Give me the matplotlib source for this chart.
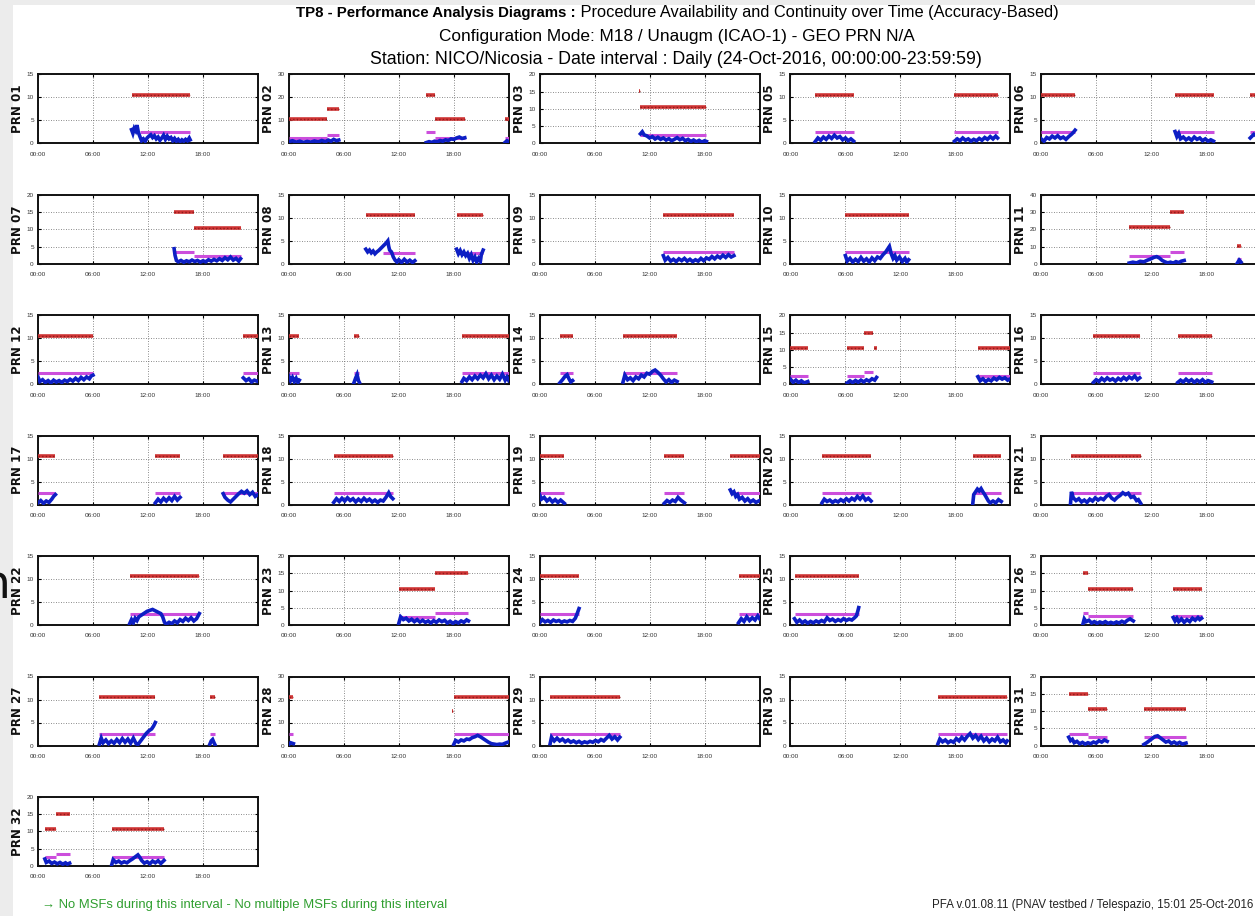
import matplotlib
matplotlib.use('Agg')
import matplotlib.pyplot as plt
from matplotlib.patches import Rectangle
from matplotlib import font_manager as fm

W, H, DPI = 1255, 916, 100

_names = {f.name for f in fm.fontManager.ttflist}
NARROW = (['Liberation Sans Narrow', 'DejaVu Sans'] if 'Liberation Sans Narrow' in _names
          else ['Liberation Sans', 'DejaVu Sans'])

# ---------------- data (hours of day, metres) ----------------
# red / magenta: (start_h, end_h, level) ; blue: list of traces [(t, v), ...]
PRN01_RED = [(10.25, 16.6, 10.6)]
PRN01_MAG = [(11.1, 16.6, 2.4)]
PRN01_BLUE = [[(10.2, 3.0), (10.35, 2.2), (10.5, 3.3), (10.65, 2.8), (10.8, 4.0), (10.95, 2.4), (11.1, 1.6),
               (11.3, 0.6), (11.5, 1.0), (11.7, 0.5), (11.9, 1.2), (12.1, 1.6), (12.3, 1.9), (12.5, 1.3),
               (12.7, 1.7), (12.9, 1.0), (13.1, 1.4), (13.3, 0.7), (13.5, 1.2), (13.7, 1.8), (13.9, 0.9),
               (14.1, 1.6), (14.3, 1.0), (14.5, 1.3), (14.7, 0.6), (14.9, 1.1), (15.1, 0.5), (15.3, 0.9),
               (15.5, 0.4), (15.7, 0.8), (15.9, 0.5), (16.1, 0.9), (16.3, 0.6), (16.5, 1.2), (16.6, 0.8)]]

PRN02_RED = [(0, 4.2, 10.6), (4.2, 5.45, 15.2), (15.0, 15.9, 21.3), (15.9, 19.2, 10.6), (23.6, 24, 10.6)]
PRN02_MAG = [(0, 4.2, 2.5), (4.2, 5.45, 3.5), (15.0, 15.9, 5.0), (15.9, 19.2, 2.5), (23.6, 24, 2.5)]
PRN02_BLUE = [[(0, 0.8), (0.4, 1.2), (0.8, 0.6), (1.2, 1.0), (1.6, 0.5), (2.0, 0.9), (2.4, 0.6), (2.8, 1.1),
               (3.2, 0.7), (3.6, 1.3), (4.0, 0.8), (4.3, 1.5), (4.6, 1.0), (4.9, 1.8), (5.2, 1.2), (5.45, 1.5)],
              [(15.0, 0.4), (15.3, 0.8), (15.6, 0.5), (15.9, 1.0), (16.2, 0.7), (16.5, 1.3), (16.8, 1.0),
               (17.1, 1.6), (17.4, 1.3), (17.7, 2.0), (18.0, 1.8), (18.3, 2.4), (18.6, 2.8), (18.9, 2.2), (19.2, 2.5)],
              [(23.6, 0.5), (23.8, 1.2), (24.0, 0.8)]]

PRN03_RED = [(10.8, 11.0, 15.2), (11.0, 18.2, 10.6)]
PRN03_MAG = [(11.0, 18.2, 2.4)]
PRN03_BLUE = [[(11.0, 2.8), (11.2, 3.4), (11.4, 2.5), (11.7, 2.2), (12.0, 1.6), (12.3, 2.0), (12.6, 1.3),
               (12.9, 1.8), (13.2, 1.2), (13.5, 1.6), (13.8, 1.0), (14.1, 1.4), (14.4, 0.8), (14.7, 1.2),
               (15.0, 1.7), (15.3, 1.1), (15.6, 1.5), (15.9, 0.8), (16.2, 1.2), (16.5, 0.6), (16.8, 1.0),
               (17.1, 0.5), (17.4, 0.9), (17.7, 0.4), (18.0, 0.8), (18.2, 0.6)]]

PRN05_RED = [(2.7, 6.9, 10.6), (17.9, 22.6, 10.6)]
PRN05_MAG = [(2.7, 6.9, 2.5), (17.9, 22.6, 2.5)]
PRN05_BLUE = [[(2.7, 0.4), (3.0, 1.2), (3.3, 0.7), (3.6, 1.4), (3.9, 0.9), (4.2, 1.6), (4.5, 1.1), (4.8, 1.8),
               (5.1, 1.2), (5.4, 1.5), (5.7, 0.8), (6.0, 1.2), (6.3, 0.6), (6.6, 1.0), (6.9, 0.5)],
              [(17.9, 0.5), (18.2, 1.0), (18.5, 0.6), (18.8, 1.2), (19.1, 0.7), (19.4, 1.0), (19.7, 0.5),
               (20.0, 0.9), (20.3, 0.6), (20.6, 1.1), (20.9, 0.7), (21.2, 1.3), (21.5, 0.9), (21.8, 1.5),
               (22.1, 1.0), (22.4, 1.6), (22.6, 1.2)]]

PRN06_RED = [(0, 3.7, 10.6), (14.6, 18.8, 10.6), (22.8, 24, 10.6)]
PRN06_MAG = [(0, 3.7, 2.5), (14.6, 18.8, 2.5), (22.8, 24, 2.5)]
PRN06_BLUE = [[(0, 1.0), (0.3, 0.5), (0.6, 1.3), (0.9, 1.0), (1.2, 1.6), (1.5, 1.2), (1.8, 1.7), (2.1, 1.1),
               (2.4, 1.4), (2.7, 0.9), (3.0, 1.5), (3.3, 2.0), (3.5, 2.4), (3.7, 2.9)],
              [(14.6, 2.6), (14.8, 1.5), (15.0, 2.2), (15.2, 1.0), (15.5, 1.4), (15.8, 0.8), (16.1, 1.2),
               (16.4, 0.7), (16.7, 1.4), (17.0, 0.9), (17.3, 1.2), (17.6, 0.6), (17.9, 1.0), (18.2, 0.5),
               (18.5, 0.8), (18.8, 0.5)],
              [(22.8, 1.2), (23.2, 2.0), (23.6, 1.5), (24.0, 1.8)]]

PRN07_RED = [(14.8, 17.0, 15.0), (17.0, 22.1, 10.5)]
PRN07_MAG = [(14.9, 17.0, 3.4), (17.0, 22.1, 2.4)]
PRN07_BLUE = [[(14.85, 4.4), (14.95, 2.5), (15.1, 1.0), (15.3, 0.6), (15.6, 1.0), (15.9, 0.5), (16.2, 0.9),
               (16.5, 0.6), (16.8, 1.1), (17.1, 0.7), (17.4, 1.0), (17.7, 0.5), (18.0, 0.9), (18.3, 0.6),
               (18.6, 1.2), (18.9, 0.8), (19.2, 1.3), (19.5, 0.9), (19.8, 1.5), (20.1, 1.0), (20.4, 1.8),
               (20.7, 1.2), (21.0, 2.0), (21.3, 1.1), (21.6, 1.6), (21.9, 0.8), (22.1, 1.5)]]

PRN08_RED = [(8.4, 13.75, 10.6), (18.3, 21.2, 10.6)]
PRN08_MAG = [(10.3, 13.75, 2.4), (18.3, 21.2, 2.4)]
PRN08_BLUE = [[(8.4, 3.2), (8.6, 2.6), (8.8, 3.0), (9.0, 2.4), (9.2, 2.8), (9.4, 2.2), (9.6, 2.6), (9.8, 2.9),
               (10.0, 3.3), (10.2, 3.7), (10.4, 4.1), (10.6, 4.5), (10.8, 5.0), (10.9, 3.8), (11.0, 3.0),
               (11.2, 2.6), (11.4, 1.5), (11.6, 0.8), (11.8, 0.4), (12.0, 0.9), (12.3, 0.3), (12.6, 1.0),
               (12.9, 0.4), (13.2, 0.8), (13.5, 0.3), (13.75, 0.7)],
              [(18.3, 3.2), (18.5, 2.2), (18.7, 2.9), (18.9, 2.0), (19.1, 2.6), (19.3, 1.8), (19.5, 2.3),
               (19.7, 1.2), (19.9, 2.0), (20.1, 0.8), (20.3, 1.5), (20.5, 0.4), (20.7, 1.2), (20.9, 0.6),
               (21.0, 2.0), (21.2, 3.0)]]

PRN09_RED = [(13.5, 21.2, 10.6)]
PRN09_MAG = [(13.5, 21.2, 2.5)]
PRN09_BLUE = [[(13.5, 1.8), (13.7, 0.8), (14.0, 1.4), (14.3, 0.6), (14.6, 1.0), (14.9, 0.5), (15.2, 1.1),
               (15.5, 0.7), (15.8, 1.2), (16.1, 0.6), (16.4, 1.0), (16.7, 0.5), (17.0, 0.9), (17.3, 0.6),
               (17.6, 1.2), (17.9, 0.7), (18.2, 1.3), (18.5, 1.0), (18.8, 1.6), (19.1, 1.1), (19.4, 1.7),
               (19.7, 1.3), (20.0, 1.9), (20.3, 1.4), (20.6, 2.0), (20.9, 1.5), (21.2, 1.8)]]

PRN10_RED = [(6.0, 12.9, 10.6)]
PRN10_MAG = [(6.0, 12.9, 2.5)]
PRN10_BLUE = [[(6.0, 1.8), (6.2, 0.6), (6.5, 1.2), (6.8, 0.4), (7.1, 1.0), (7.4, 0.5), (7.7, 1.4), (8.0, 0.6),
               (8.3, 1.1), (8.6, 0.4), (8.9, 1.3), (9.2, 0.7), (9.5, 1.5), (9.8, 1.2), (10.1, 2.0), (10.4, 2.6),
               (10.6, 3.2), (10.8, 3.8), (11.0, 2.2), (11.2, 1.2), (11.4, 1.8), (11.6, 0.8), (11.9, 1.5),
               (12.2, 0.5), (12.5, 1.2), (12.7, 0.4), (12.9, 0.9)]]

PRN11_RED = [(9.6, 14.0, 21.3), (14.0, 15.6, 30.2), (21.4, 21.8, 10.6)]
PRN11_MAG = [(9.6, 14.0, 4.8), (14.0, 15.6, 6.8), (21.4, 21.8, 2.6)]
PRN11_BLUE = [[(9.6, 0.5), (10.0, 1.0), (10.4, 0.6), (10.8, 1.5), (11.2, 1.2), (11.6, 2.2), (12.0, 3.0),
               (12.3, 3.8), (12.6, 4.2), (12.9, 3.4), (13.2, 2.0), (13.5, 1.2), (13.8, 0.6), (14.1, 1.0),
               (14.4, 0.5), (14.7, 1.3), (15.0, 0.8), (15.3, 1.6), (15.6, 2.0)],
              [(21.4, 0.5), (21.6, 2.2), (21.8, 1.0)]]

PRN12_RED = [(0, 6.0, 10.6), (22.4, 24, 10.6)]
PRN12_MAG = [(0, 6.0, 2.5), (22.4, 24, 2.5)]
PRN12_BLUE = [[(0, 1.6), (0.2, 0.6), (0.5, 1.0), (0.8, 0.4), (1.1, 0.8), (1.4, 0.3), (1.7, 0.9), (2.0, 0.5),
               (2.3, 0.8), (2.6, 0.4), (2.9, 0.9), (3.2, 0.6), (3.5, 1.1), (3.8, 0.7), (4.1, 1.3), (4.4, 0.8),
               (4.7, 1.5), (5.0, 1.0), (5.3, 1.6), (5.6, 1.2), (5.8, 1.8), (6.0, 2.0)],
              [(22.4, 1.4), (22.7, 0.8), (23.0, 1.2), (23.3, 0.5), (23.6, 0.9), (24.0, 0.6)]]

PRN13_RED = [(0, 1.15, 10.6), (7.1, 7.7, 10.6), (18.9, 24, 10.6)]
PRN13_MAG = [(0, 1.15, 2.5), (7.1, 7.7, 2.5), (18.9, 24, 2.5)]
PRN13_BLUE = [[(0, 1.8), (0.2, 0.8), (0.4, 1.5), (0.6, 0.6), (0.8, 1.3), (1.0, 0.4), (1.15, 0.9)],
              [(7.1, 0.3), (7.3, 1.4), (7.45, 2.1), (7.6, 0.8), (7.7, 0.4)],
              [(18.9, 0.6), (19.1, 1.3), (19.4, 0.8), (19.7, 1.6), (20.0, 1.0), (20.3, 1.8), (20.6, 1.2),
               (20.9, 2.0), (21.2, 1.4), (21.5, 2.3), (21.8, 1.2), (22.1, 2.0), (22.4, 1.0), (22.7, 1.8),
               (23.0, 1.1), (23.3, 2.2), (23.6, 0.9), (23.8, 1.6), (24.0, 0.8)]]

PRN14_RED = [(2.2, 3.6, 10.6), (9.1, 15.0, 10.6)]
PRN14_MAG = [(2.2, 3.6, 2.5), (9.1, 15.0, 2.5)]
PRN14_BLUE = [[(2.2, 0.3), (2.5, 1.0), (2.8, 1.8), (3.0, 2.1), (3.2, 1.2), (3.4, 0.5), (3.6, 0.8)],
              [(9.1, 0.5), (9.3, 2.0), (9.6, 1.0), (9.9, 1.4), (10.2, 0.8), (10.5, 1.6), (10.8, 1.2),
               (11.1, 2.0), (11.4, 1.6), (11.7, 2.4), (12.0, 2.2), (12.3, 2.8), (12.6, 3.1), (12.9, 2.6),
               (13.2, 2.0), (13.5, 1.2), (13.8, 0.5), (14.1, 1.0), (14.4, 0.4), (14.7, 0.9), (15.0, 0.6)]]

PRN15_RED = [(0, 1.9, 10.5), (6.2, 8.0, 10.5), (8.0, 9.0, 15.0), (9.1, 9.4, 10.5), (20.45, 24, 10.5)]
PRN15_MAG = [(0, 1.9, 2.5), (6.2, 8.0, 2.5), (8.0, 9.0, 3.5), (20.45, 24, 2.5)]
PRN15_BLUE = [[(0, 1.5), (0.3, 0.6), (0.6, 1.2), (0.9, 0.5), (1.2, 1.0), (1.5, 0.4), (1.9, 0.8)],
              [(6.2, 0.4), (6.5, 1.0), (6.8, 0.5), (7.1, 1.1), (7.4, 0.6), (7.7, 1.2), (8.0, 0.7), (8.3, 1.3),
               (8.6, 0.9), (8.9, 1.6), (9.2, 1.2), (9.4, 2.0)],
              [(20.45, 2.2), (20.7, 1.0), (21.0, 1.6), (21.3, 0.8), (21.6, 1.4), (21.9, 1.0), (22.2, 1.8),
               (22.5, 1.3), (22.8, 2.0), (23.1, 1.5), (23.4, 1.9), (23.7, 1.2), (24.0, 1.6)]]

PRN16_RED = [(5.7, 10.75, 10.6), (14.9, 18.6, 10.6)]
PRN16_MAG = [(5.7, 10.75, 2.5), (14.9, 18.6, 2.5)]
PRN16_BLUE = [[(5.7, 0.4), (6.0, 1.0), (6.3, 0.6), (6.6, 1.3), (6.9, 0.8), (7.2, 1.4), (7.5, 0.9), (7.8, 1.2),
               (8.1, 0.7), (8.4, 1.3), (8.7, 0.9), (9.0, 1.5), (9.3, 1.0), (9.6, 1.6), (9.9, 1.2), (10.2, 1.8),
               (10.5, 1.0), (10.75, 1.4)],
              [(14.9, 0.4), (15.2, 0.9), (15.5, 0.5), (15.8, 1.1), (16.1, 0.6), (16.4, 1.0), (16.7, 0.4),
               (17.0, 0.9), (17.3, 0.5), (17.6, 1.0), (17.9, 0.4), (18.2, 0.8), (18.6, 0.5)]]

PRN17_RED = [(0, 1.9, 10.6), (12.8, 15.5, 10.6), (20.2, 24, 10.6)]
PRN17_MAG = [(0, 1.9, 2.5), (12.8, 15.5, 2.5), (20.2, 24, 2.5)]
PRN17_BLUE = [[(0, 0.4), (0.3, 0.9), (0.6, 0.3), (0.9, 0.8), (1.2, 0.5), (1.5, 1.2), (1.7, 1.8), (1.9, 2.2)],
              [(12.8, 0.4), (13.1, 1.2), (13.4, 0.6), (13.7, 1.4), (14.0, 0.8), (14.3, 1.5), (14.6, 0.9),
               (14.9, 1.8), (15.2, 1.0), (15.5, 1.6)],
              [(20.2, 2.4), (20.4, 1.6), (20.7, 1.0), (21.0, 0.6), (21.3, 1.2), (21.6, 1.8), (21.9, 2.4),
               (22.2, 2.9), (22.5, 2.5), (22.8, 3.0), (23.1, 2.2), (23.4, 2.7), (23.7, 1.8), (24.0, 2.2)]]

PRN18_RED = [(4.9, 11.35, 10.6)]
PRN18_MAG = [(4.9, 11.35, 2.5)]
PRN18_BLUE = [[(4.9, 0.5), (5.2, 1.3), (5.5, 0.7), (5.8, 1.4), (6.1, 0.8), (6.4, 1.5), (6.7, 0.9), (7.0, 1.3),
               (7.3, 0.6), (7.6, 1.2), (7.9, 0.7), (8.2, 1.4), (8.5, 0.8), (8.8, 1.2), (9.1, 0.6), (9.4, 1.0),
               (9.7, 0.5), (10.0, 1.0), (10.3, 0.8), (10.6, 1.6), (10.9, 2.6), (11.1, 1.8), (11.35, 1.3)]]

PRN19_RED = [(0, 2.7, 10.6), (13.6, 15.8, 10.6), (20.8, 24, 10.6)]
PRN19_MAG = [(0, 2.7, 2.5), (13.6, 15.8, 2.5), (20.8, 24, 2.5)]
PRN19_BLUE = [[(0, 2.2), (0.2, 1.2), (0.5, 1.6), (0.8, 0.8), (1.1, 1.3), (1.4, 0.6), (1.7, 1.1), (2.0, 0.5),
               (2.3, 1.0), (2.7, 0.3)],
              [(13.6, 0.3), (13.9, 0.9), (14.2, 0.5), (14.5, 1.0), (14.8, 0.7), (15.1, 1.6), (15.4, 1.0), (15.8, 0.4)],
              [(20.8, 3.2), (21.0, 2.4), (21.2, 2.8), (21.4, 1.8), (21.6, 2.2), (21.8, 1.2), (22.1, 1.6),
               (22.4, 0.8), (22.7, 1.3), (23.0, 0.6), (23.3, 1.0), (23.6, 0.5), (24.0, 0.9)]]

PRN20_RED = [(3.45, 8.8, 10.6), (19.9, 23.0, 10.6)]
PRN20_MAG = [(3.45, 8.8, 2.5), (19.9, 23.0, 2.5)]
PRN20_BLUE = [[(3.45, 0.4), (3.7, 1.2), (4.0, 0.7), (4.3, 1.0), (4.6, 0.5), (4.9, 0.9), (5.2, 0.6), (5.5, 1.1),
               (5.8, 0.7), (6.1, 1.3), (6.4, 0.8), (6.7, 1.4), (7.0, 1.0), (7.3, 1.8), (7.6, 1.2), (7.9, 1.9),
               (8.2, 1.0), (8.5, 1.4), (8.8, 0.8)],
              [(19.9, 0.3), (20.0, 2.2), (20.2, 2.8), (20.4, 3.4), (20.6, 3.0), (20.8, 3.5), (21.0, 2.8),
               (21.2, 2.2), (21.4, 1.5), (21.6, 0.8), (21.8, 0.4), (22.1, 0.8), (22.4, 0.4), (22.7, 1.1), (23.0, 0.7)]]

PRN21_RED = [(3.2, 10.85, 10.6)]
PRN21_MAG = [(3.2, 10.85, 2.5)]
PRN21_BLUE = [[(3.2, 0.3), (3.3, 2.8), (3.5, 1.5), (3.8, 0.9), (4.1, 1.3), (4.4, 0.6), (4.7, 1.0), (5.0, 0.5),
               (5.3, 1.2), (5.6, 0.8), (5.9, 1.5), (6.2, 1.0), (6.5, 1.4), (6.8, 1.1), (7.1, 1.8), (7.4, 2.2),
               (7.7, 1.4), (8.0, 1.0), (8.3, 1.6), (8.6, 2.0), (8.9, 2.6), (9.2, 2.2), (9.5, 2.5), (9.8, 1.6),
               (10.1, 1.8), (10.4, 0.9), (10.6, 1.1), (10.85, 0.3)]]

PRN22_RED = [(10.0, 17.6, 10.6)]
PRN22_MAG = [(10.0, 17.6, 2.5)]
PRN22_BLUE = [[(10.0, 0.3), (10.2, 1.2), (10.4, 0.5), (10.6, 1.5), (10.8, 1.0), (11.0, 1.8), (11.3, 2.2),
               (11.6, 2.6), (11.9, 3.0), (12.2, 3.2), (12.5, 3.4), (12.8, 3.1), (13.1, 2.8), (13.4, 2.5),
               (13.6, 1.8), (13.8, 0.6), (14.0, 0.2), (14.3, 0.6), (14.6, 0.3), (14.9, 0.9), (15.2, 0.5),
               (15.5, 1.2), (15.8, 0.8), (16.1, 1.5), (16.4, 1.0), (16.7, 1.6), (17.0, 0.9), (17.3, 1.4), (17.6, 2.5)]]

PRN23_RED = [(12.0, 16.0, 10.6), (16.0, 19.6, 15.0)]
PRN23_MAG = [(12.0, 16.0, 2.4), (16.0, 19.6, 3.4)]
PRN23_BLUE = [[(12.0, 0.5), (12.2, 2.4), (12.5, 1.6), (12.8, 2.0), (13.1, 1.2), (13.4, 1.7), (13.7, 1.0),
               (14.0, 1.6), (14.3, 0.9), (14.6, 1.4), (14.9, 0.8), (15.2, 1.2), (15.5, 0.6), (15.8, 1.3),
               (16.1, 0.8), (16.4, 1.5), (16.7, 1.0), (17.0, 1.4), (17.3, 0.6), (17.6, 1.1), (17.9, 0.5),
               (18.2, 1.0), (18.5, 0.6), (18.8, 1.2), (19.1, 0.8), (19.4, 1.5), (19.6, 1.2)]]

PRN24_RED = [(0, 4.3, 10.6), (21.7, 24, 10.6)]
PRN24_MAG = [(0, 4.3, 2.5), (21.7, 24, 2.5)]
PRN24_BLUE = [[(0, 0.5), (0.3, 1.2), (0.6, 0.7), (0.9, 1.0), (1.2, 0.6), (1.5, 1.1), (1.8, 0.8), (2.1, 1.0),
               (2.4, 0.6), (2.7, 0.9), (3.0, 0.7), (3.3, 1.0), (3.6, 0.8), (3.9, 1.5), (4.1, 2.5), (4.3, 3.6)],
              [(21.7, 0.5), (22.0, 1.4), (22.3, 0.8), (22.6, 1.8), (22.9, 1.0), (23.2, 1.6), (23.5, 1.1),
               (23.8, 2.0), (24.0, 1.4)]]

PRN25_RED = [(0.45, 7.45, 10.6)]
PRN25_MAG = [(0.45, 7.45, 2.5)]
PRN25_BLUE = [[(0.45, 1.4), (0.7, 0.6), (1.0, 1.1), (1.3, 0.5), (1.6, 0.9), (1.9, 0.4), (2.2, 0.8), (2.5, 0.5),
               (2.8, 0.9), (3.1, 0.6), (3.4, 1.0), (3.7, 0.7), (4.0, 1.6), (4.3, 1.0), (4.6, 1.3), (4.9, 0.8),
               (5.2, 1.2), (5.5, 0.9), (5.8, 1.4), (6.1, 1.0), (6.4, 1.3), (6.7, 1.1), (7.0, 1.6), (7.2, 2.0),
               (7.35, 3.0), (7.45, 3.8)]]

PRN26_RED = [(4.55, 5.1, 15.0), (5.1, 10.05, 10.6), (14.4, 17.5, 10.6)]
PRN26_MAG = [(4.55, 5.1, 3.5), (5.1, 10.05, 2.5), (14.4, 17.5, 2.5)]
PRN26_BLUE = [[(4.55, 0.3), (4.7, 1.8), (4.9, 1.0), (5.2, 1.4), (5.5, 0.6), (5.8, 1.0), (6.1, 0.5), (6.4, 0.9),
               (6.7, 0.6), (7.0, 1.0), (7.3, 0.5), (7.6, 0.8), (7.9, 0.5), (8.2, 0.9), (8.5, 0.6), (8.8, 1.1),
               (9.1, 0.7), (9.4, 1.4), (9.7, 1.8), (10.05, 1.2)],
              [(14.4, 2.2), (14.6, 1.2), (14.8, 2.0), (15.0, 1.0), (15.3, 1.8), (15.6, 0.8), (15.9, 1.6),
               (16.2, 1.0), (16.5, 2.0), (16.8, 1.4), (17.1, 2.2), (17.3, 1.6), (17.5, 2.0)]]

PRN27_RED = [(6.7, 12.8, 10.6), (18.75, 19.3, 10.6)]
PRN27_MAG = [(6.7, 12.8, 2.5), (18.75, 19.3, 2.5)]
PRN27_BLUE = [[(6.7, 0.3), (6.9, 1.6), (7.1, 0.6), (7.4, 1.2), (7.7, 0.4), (8.0, 1.0), (8.3, 0.5), (8.6, 1.3),
               (8.9, 0.6), (9.2, 1.5), (9.5, 0.7), (9.8, 1.4), (10.1, 0.5), (10.4, 1.6), (10.7, 0.4),
               (10.9, 0.2), (11.2, 1.0), (11.5, 1.8), (11.8, 2.6), (12.1, 3.2), (12.4, 3.6), (12.6, 4.2), (12.8, 5.0)],
              [(18.75, 0.3), (18.9, 1.0), (19.05, 1.3), (19.2, 0.6), (19.3, 0.2)]]

PRN28_RED = [(0, 0.5, 21.3), (17.85, 17.95, 15.0), (18.0, 24, 21.3)]
PRN28_MAG = [(0, 0.5, 5.0), (18.0, 24, 5.0)]
PRN28_BLUE = [[(0, 0.5), (0.2, 1.2), (0.5, 0.8)],
              [(18.0, 0.5), (18.2, 2.2), (18.5, 1.5), (18.8, 2.4), (19.1, 2.0), (19.4, 2.8), (19.7, 2.6),
               (20.0, 3.4), (20.3, 3.8), (20.6, 4.4), (20.9, 3.8), (21.2, 3.0), (21.5, 2.2), (21.8, 1.4),
               (22.1, 0.8), (22.4, 0.6), (22.7, 0.4), (23.0, 0.6), (23.3, 0.5), (23.6, 1.0), (24.0, 1.6)]]

PRN29_RED = [(1.15, 8.75, 10.6)]
PRN29_MAG = [(1.15, 8.75, 2.5)]
PRN29_BLUE = [[(1.15, 0.4), (1.3, 1.8), (1.6, 1.0), (1.9, 1.6), (2.2, 1.0), (2.5, 1.4), (2.8, 0.8), (3.1, 1.2),
               (3.4, 0.7), (3.7, 1.0), (4.0, 0.6), (4.3, 0.9), (4.6, 0.5), (4.9, 0.8), (5.2, 0.6), (5.5, 0.9),
               (5.8, 0.7), (6.1, 1.1), (6.4, 0.8), (6.7, 1.3), (7.0, 1.0), (7.3, 1.6), (7.6, 2.2), (7.9, 1.4),
               (8.2, 1.9), (8.5, 1.2), (8.75, 1.8)]]

PRN30_RED = [(16.1, 23.65, 10.6)]
PRN30_MAG = [(16.1, 23.65, 2.5)]
PRN30_BLUE = [[(16.1, 0.4), (16.3, 1.4), (16.6, 0.8), (16.9, 1.2), (17.2, 0.6), (17.5, 1.0), (17.8, 0.7),
               (18.1, 1.5), (18.4, 1.0), (18.7, 1.8), (19.0, 1.2), (19.3, 2.0), (19.6, 2.6), (19.9, 1.6),
               (20.2, 2.2), (20.5, 1.3), (20.8, 2.0), (21.1, 1.0), (21.4, 1.6), (21.7, 0.8), (22.0, 1.4),
               (22.3, 1.0), (22.6, 1.8), (22.9, 0.8), (23.2, 1.2), (23.5, 0.6), (23.65, 1.0)]]

PRN31_RED = [(3.0, 5.1, 15.0), (5.1, 7.2, 10.5), (11.2, 15.8, 10.5)]
PRN31_MAG = [(3.0, 5.1, 3.4), (5.1, 7.2, 2.5), (11.2, 15.8, 2.5)]
PRN31_BLUE = [[(3.0, 2.4), (3.2, 1.4), (3.4, 1.8), (3.6, 0.8), (3.9, 1.2), (4.2, 0.5), (4.5, 0.9), (4.8, 0.4),
               (5.1, 0.8), (5.4, 0.5), (5.7, 1.0), (6.0, 0.7), (6.3, 1.4), (6.6, 1.0), (6.9, 1.6), (7.2, 1.2)],
              [(11.2, 0.3), (11.5, 0.8), (11.8, 1.4), (12.1, 2.0), (12.4, 2.6), (12.7, 2.8), (13.0, 2.2),
               (13.3, 1.6), (13.6, 1.0), (13.9, 1.3), (14.2, 0.6), (14.5, 1.0), (14.8, 0.5), (15.1, 0.9),
               (15.4, 0.4), (15.8, 0.7)]]

PRN32_RED = [(0.75, 2.0, 10.6), (2.0, 3.45, 15.0), (8.05, 13.75, 10.6)]
PRN32_MAG = [(0.75, 2.0, 2.5), (2.0, 3.45, 3.5), (8.05, 13.75, 2.5)]
PRN32_BLUE = [[(0.75, 2.0), (0.9, 1.0), (1.2, 1.4), (1.5, 0.7), (1.8, 1.1), (2.1, 0.6), (2.4, 1.0), (2.7, 0.5),
               (3.0, 0.9), (3.2, 0.5), (3.45, 0.8)],
              [(8.05, 0.4), (8.2, 1.8), (8.5, 1.0), (8.8, 1.4), (9.1, 0.8), (9.4, 1.2), (9.7, 0.9), (10.0, 1.5),
               (10.3, 2.0), (10.6, 2.6), (10.9, 3.2), (11.1, 2.5), (11.3, 1.6), (11.6, 0.8), (11.9, 1.2),
               (12.2, 0.6), (12.5, 1.4), (12.8, 0.9), (13.1, 1.5), (13.4, 0.7), (13.75, 1.6)]]

PANEL_NAMES = ["PRN 01", "PRN 02", "PRN 03", "PRN 05", "PRN 06",
               "PRN 07", "PRN 08", "PRN 09", "PRN 10", "PRN 11",
               "PRN 12", "PRN 13", "PRN 14", "PRN 15", "PRN 16",
               "PRN 17", "PRN 18", "PRN 19", "PRN 20", "PRN 21",
               "PRN 22", "PRN 23", "PRN 24", "PRN 25", "PRN 26",
               "PRN 27", "PRN 28", "PRN 29", "PRN 30", "PRN 31",
               "PRN 32"]
PANEL_YMAX = [15, 30, 20, 15, 15,
              20, 15, 15, 15, 40,
              15, 15, 15, 20, 15,
              15, 15, 15, 15, 15,
              15, 20, 15, 15, 20,
              15, 30, 15, 15, 20,
              20]
PANEL_RED = [PRN01_RED, PRN02_RED, PRN03_RED, PRN05_RED, PRN06_RED, PRN07_RED, PRN08_RED, PRN09_RED,
             PRN10_RED, PRN11_RED, PRN12_RED, PRN13_RED, PRN14_RED, PRN15_RED, PRN16_RED, PRN17_RED,
             PRN18_RED, PRN19_RED, PRN20_RED, PRN21_RED, PRN22_RED, PRN23_RED, PRN24_RED, PRN25_RED,
             PRN26_RED, PRN27_RED, PRN28_RED, PRN29_RED, PRN30_RED, PRN31_RED, PRN32_RED]
PANEL_MAG = [PRN01_MAG, PRN02_MAG, PRN03_MAG, PRN05_MAG, PRN06_MAG, PRN07_MAG, PRN08_MAG, PRN09_MAG,
             PRN10_MAG, PRN11_MAG, PRN12_MAG, PRN13_MAG, PRN14_MAG, PRN15_MAG, PRN16_MAG, PRN17_MAG,
             PRN18_MAG, PRN19_MAG, PRN20_MAG, PRN21_MAG, PRN22_MAG, PRN23_MAG, PRN24_MAG, PRN25_MAG,
             PRN26_MAG, PRN27_MAG, PRN28_MAG, PRN29_MAG, PRN30_MAG, PRN31_MAG, PRN32_MAG]
PANEL_BLUE = [PRN01_BLUE, PRN02_BLUE, PRN03_BLUE, PRN05_BLUE, PRN06_BLUE, PRN07_BLUE, PRN08_BLUE, PRN09_BLUE,
              PRN10_BLUE, PRN11_BLUE, PRN12_BLUE, PRN13_BLUE, PRN14_BLUE, PRN15_BLUE, PRN16_BLUE, PRN17_BLUE,
              PRN18_BLUE, PRN19_BLUE, PRN20_BLUE, PRN21_BLUE, PRN22_BLUE, PRN23_BLUE, PRN24_BLUE, PRN25_BLUE,
              PRN26_BLUE, PRN27_BLUE, PRN28_BLUE, PRN29_BLUE, PRN30_BLUE, PRN31_BLUE, PRN32_BLUE]

X_TICKS = [0, 6, 12, 18]
X_TICK_LABELS = ["00:00", "06:00", "12:00", "18:00"]

TITLE_BOLD = "TP8 - Performance Analysis Diagrams :"
TITLE_REST = " Procedure Availability and Continuity over Time (Accuracy-Based)"
TITLE_LINE2 = "Configuration Mode: M18 / Unaugm (ICAO-1) - GEO PRN N/A"
TITLE_LINE3 = "Station: NICO/Nicosia - Date interval : Daily (24-Oct-2016, 00:00:00-23:59:59)"
FOOT_LEFT = "\u2192 No MSFs during this interval - No multiple MSFs during this interval"
FOOT_RIGHT = "PFA v.01.08.11 (PNAV testbed / Telespazio, 15:01 25-Oct-2016"

RED_C, MAG_C, BLUE_C = '#cf3434', '#cc4edc', '#0d1fc4'

# ---------------- figure ----------------
fig = plt.figure(figsize=(W / DPI, H / DPI), dpi=DPI)
fig.patch.set_facecolor('#ececec')
fig.add_artist(Rectangle((13 / W, 0), 1, (H - 5) / H, transform=fig.transFigure,
                         facecolor='white', edgecolor='none', zorder=-10))

COL_LEFT0, COL_STEP, AX_W = 38, 250.8, 220
ROW_TOP0, ROW_STEP, AX_H = 74.5, 120.4, 69

for i, name in enumerate(PANEL_NAMES):
    r, c = divmod(i, 5)
    left = COL_LEFT0 + COL_STEP * c
    top = ROW_TOP0 + ROW_STEP * r
    ax = fig.add_axes([left / W, 1 - (top + AX_H) / H, AX_W / W, AX_H / H])
    ymax = PANEL_YMAX[i]
    step = 5 if ymax <= 20 else 10
    ax.set_xlim(0, 24)
    ax.set_ylim(0, ymax)
    ax.set_xticks(X_TICKS)
    ax.set_xticklabels(X_TICK_LABELS)
    ax.set_yticks(list(range(0, ymax + 1, step)))
    ax.grid(True, linestyle=(0, (1, 2)), color='#666666', linewidth=0.6)
    ax.set_axisbelow(True)
    ax.tick_params(direction='in', length=2.5, width=0.8, top=True, right=True,
                   labelsize=4.6, labelcolor='#333333', pad=3)
    ax.tick_params(axis='x', pad=6)
    for lbl in ax.get_xticklabels() + ax.get_yticklabels():
        lbl.set_family(NARROW)
    for sp in ax.spines.values():
        sp.set_linewidth(1.4)
        sp.set_color('#111111')

    for (a, b, lev) in PANEL_MAG[i]:
        ax.plot([a, b], [lev, lev], color=MAG_C, lw=2.2, solid_capstyle='butt', zorder=3)
    for (a, b, lev) in PANEL_RED[i]:
        ax.plot([a, b], [lev, lev], color=RED_C, lw=2.6, solid_capstyle='butt', zorder=3)
        ax.plot([a, b], [lev, lev], color='#8e1b1b', lw=1.0, linestyle=(0, (1, 1.6)), zorder=3.5)
    for trace in PANEL_BLUE[i]:
        ts = [p[0] for p in trace]
        vs = [p[1] for p in trace]
        ax.plot(ts, vs, color=BLUE_C, lw=2.6, solid_joinstyle='miter', zorder=4)

    ax.set_ylabel(name, fontsize=8.6, fontweight='bold', family='DejaVu Sans', color='#111111')
    ax.yaxis.set_label_coords(-14 / AX_W, 0.5)

# ---------------- texts ----------------
renderer = fig.canvas.get_renderer()
tb = fig.text(0, 1 - 13 / H, TITLE_BOLD, fontsize=10.8, fontweight='bold', family=NARROW, va='center')
tr = fig.text(0, 1 - 13 / H, TITLE_REST, fontsize=11.8, family=NARROW, va='center')
wb = tb.get_window_extent(renderer).width
wr = tr.get_window_extent(renderer).width
x0 = 677 - (wb + wr) / 2
tb.set_x(x0 / W)
tr.set_x((x0 + wb) / W)
fig.text(677 / W, 1 - 37 / H, TITLE_LINE2, fontsize=12.4, family=NARROW, ha='center', va='center')
fig.text(676 / W, 1 - 60 / H, TITLE_LINE3, fontsize=12.8, family=NARROW, ha='center', va='center')

fig.text(42 / W, 1 - 905 / H, FOOT_LEFT, fontsize=9.4, family=NARROW, color='#2f9e2f', va='center')
fig.text(1253 / W, 1 - 905 / H, FOOT_RIGHT, fontsize=8.3, family=NARROW, color='#222222', ha='right', va='center')

# fragment of slide text at the left edge
fig.text(11 / W, 1 - 598 / H, 'n', fontsize=34, family='DejaVu Sans', ha='right', va='baseline', color='#111111')

fig.savefig('out.png', dpi=DPI, facecolor=fig.get_facecolor())
